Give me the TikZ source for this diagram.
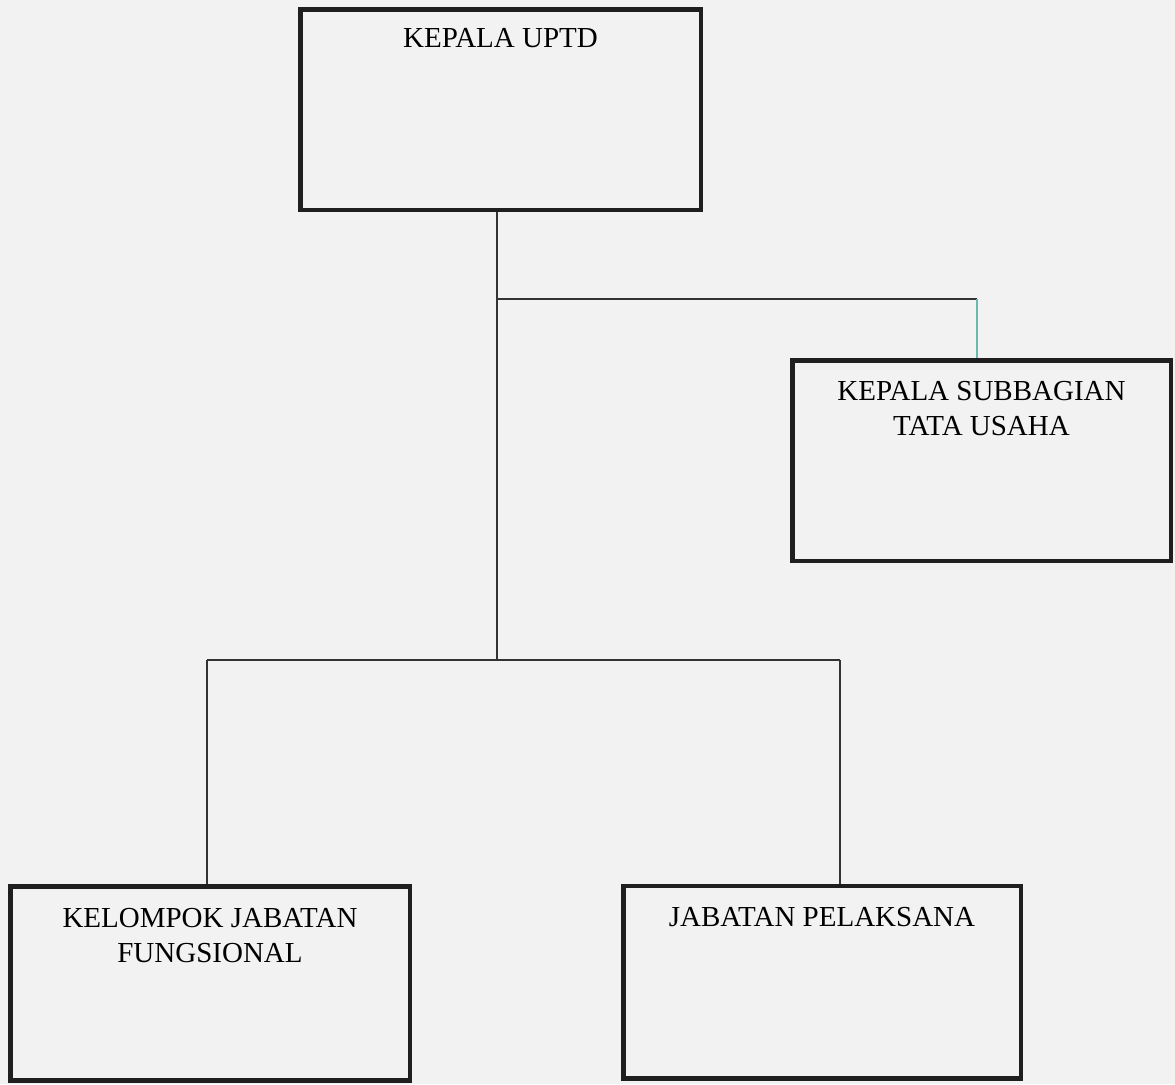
\documentclass[tikz,border=0pt]{standalone}
\usepackage{fontspec}
\setmainfont{Liberation Serif}
\colorlet{box edge}{black!88}
\colorlet{link edge}{black!80}
\definecolor{paper}{RGB}{242,242,242}
\definecolor{branch teal}{RGB}{105,185,175}
\tikzset{unit/.style={draw=box edge, line width=4.5pt, inner sep=0pt,
        minimum width=400pt, minimum height=200.5pt},
    caption/.style={anchor=north, yshift=-23pt, align=center, inner sep=0pt,
        font=\fontsize{29}{35}\selectfont},
    link/.style={draw=link edge, line width=1.4pt}}

\begin{document}
\begin{tikzpicture}[x=1pt, y=-1pt]
    \fill[paper] (0,0) rectangle (1175,1084);
    \useasboundingbox (0,0) rectangle (1175,1084);

    \node[unit, minimum width=400.5pt] (chief) at (500.5,109.5) {};
    \node[caption, yshift=1.5pt] (chief text) at (chief.north) {KEPALA UPTD};

    \node[unit, minimum width=378.5pt] (admin) at (981.5,460.5) {};
    \node[caption] (admin text) at (admin.north) {KEPALA SUBBAGIAN\\TATA USAHA};

    \node[unit, minimum width=399.5pt, minimum height=194pt] (functional) at (210,983.5) {};
    \node[caption, yshift=-1pt] (functional text) at (functional.north) {KELOMPOK JABATAN\\FUNGSIONAL};

    \node[unit, minimum width=397.5pt, minimum height=192.5pt] (executor) at (822,982) {};
    \node[caption, yshift=-1pt] (executor text) at (executor.north) {JABATAN PELAKSANA};

    \coordinate (fork) at (497,299);
    \coordinate (tap) at (977,299);
    \coordinate (split) at (497,660);
    \coordinate (left drop) at (207,660);
    \coordinate (right drop) at (840,660);

    \draw[link] (chief.south -| fork) -- (split);
    \draw[link] (fork) -- (tap);
    \draw[link, draw=branch teal] (tap) -- (tap |- admin.north);
    \draw[link] (left drop) -- (right drop);
    \draw[link] (left drop) -- (left drop |- functional.north);
    \draw[link] (right drop) -- (right drop |- executor.north);
\end{tikzpicture}
\end{document}
